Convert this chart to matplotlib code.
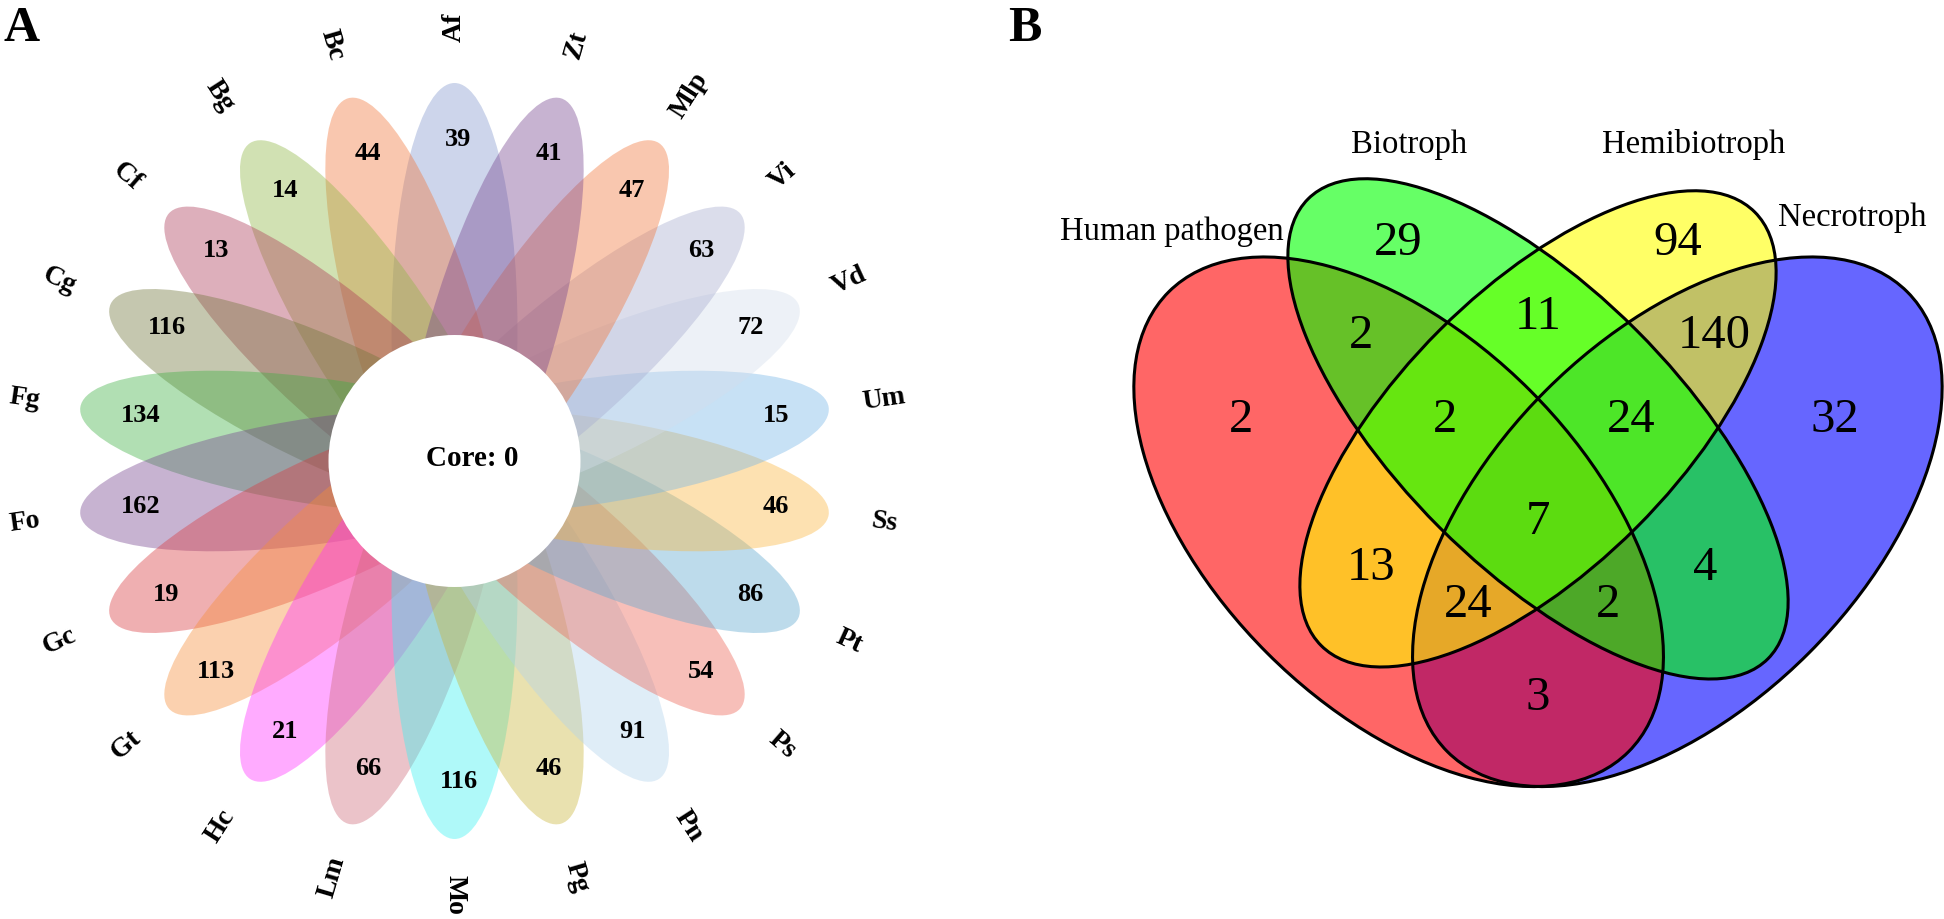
import numpy as np
import matplotlib
matplotlib.use('Agg')
import matplotlib.pyplot as plt
from matplotlib.patches import Ellipse, Circle

plt.rcParams['font.family'] = ['Liberation Serif', 'DejaVu Serif']

# ---- panel A: flower plot data (clockwise from top) ----
species = ['Af', 'Zt', 'Mlp', 'Vi', 'Vd', 'Um', 'Ss', 'Pt', 'Ps', 'Pn', 'Pg',
           'Mo', 'Lm', 'Hc', 'Gt', 'Gc', 'Fo', 'Fg', 'Cg', 'Cf', 'Bg', 'Bc']
unique_counts = [39, 41, 47, 63, 72, 15, 46, 86, 54, 91, 46,
                 116, 66, 21, 113, 19, 162, 134, 116, 13, 14, 44]
core_count = 0
petal_colors = ['#8298cd', '#75438e', '#f27537', '#a7accf', '#d4deeb', '#75b4e6',
                '#fab63e', '#5ca7cf', '#ed6152', '#b1d2ed', '#cab437', '#39f2f2',
                '#cd6b7a', '#ff2fff', '#f78e37', '#d9393e', '#75438e', '#3eaf43',
                '#707539', '#ac3755', '#8eb643', '#f27537']

# ---- panel B: four-set Venn data ----
groups = ['Human pathogen', 'Biotroph', 'Hemibiotroph', 'Necrotroph']
group_colors = ['#ff0000', '#00ff00', '#ffff00', '#0000ff']
# regions given as membership (H, B, He, N)
regions = [(1, 0, 0, 0), (0, 1, 0, 0), (0, 0, 1, 0), (0, 0, 0, 1),
           (1, 1, 0, 0), (0, 1, 1, 0), (0, 0, 1, 1), (1, 0, 1, 0),
           (0, 1, 0, 1), (1, 0, 0, 1), (1, 1, 1, 0), (0, 1, 1, 1),
           (1, 1, 1, 1), (1, 0, 1, 1), (1, 1, 0, 1)]
region_counts = [2, 29, 94, 32, 2, 11, 140, 13, 4, 3, 2, 24, 7, 24, 2]

# layout of the Venn (unit coordinates as in VennDiagram)
ell_xy = [(0.35, 0.47), (0.50, 0.57), (0.50, 0.57), (0.65, 0.47)]
ell_ab = [(0.35, 0.20), (0.35, 0.15), (0.33, 0.15), (0.35, 0.20)]
ell_rot = [135, 135, 45, 45]
region_xy = [(0.18, 0.58), (0.35, 0.77), (0.65, 0.77), (0.82, 0.58),
             (0.31, 0.67), (0.50, 0.69), (0.69, 0.67), (0.32, 0.42),
             (0.68, 0.42), (0.50, 0.28), (0.40, 0.58), (0.60, 0.58),
             (0.50, 0.47), (0.425, 0.38), (0.575, 0.38)]
label_xy = [(0.106, 0.782), (0.361, 0.876), (0.668, 0.876), (0.838, 0.797)]

W, H = 1944, 919
fig = plt.figure(figsize=(W / 100, H / 100), dpi=100)

# ---------------- panel A ----------------
ax1 = fig.add_axes([0, 0, 940 / W, 1])
ax1.set_xlim(0, 940)
ax1.set_ylim(0, H)
ax1.axis('off')

cx, cy = 454.5, H - 461
n = len(species)
angles = [90 - i * 360 / n for i in range(n)]
order = [0] + list(range(n - 1, 0, -1))
for i in order:
    t = np.deg2rad(angles[i])
    ax1.add_patch(Ellipse((cx + 132 * np.cos(t), cy + 132 * np.sin(t)),
                          width=2 * 246, height=2 * 63, angle=angles[i],
                          facecolor=petal_colors[i], alpha=0.4, lw=0))
ax1.add_patch(Circle((cx, cy), 126, facecolor='white', edgecolor='none', zorder=5))
ax1.text(cx + 18, cy + 3, f'Core: {core_count}', ha='center', va='center',
         fontsize=21, fontweight='bold', zorder=6)

for i in range(n):
    a = angles[i]
    t = np.deg2rad(a)
    ax1.text(cx + 321 * np.cos(t) + 4, cy + 321 * np.sin(t), str(unique_counts[i]),
             ha='center', va='center', fontsize=19, fontweight='bold', zorder=6)
    rot = a if -90 <= a <= 90 else a + 180
    ax1.text(cx + 434 * np.cos(t), cy + 434 * np.sin(t), species[i],
             ha='center', va='center', rotation=rot, rotation_mode='anchor',
             fontsize=20, fontweight='bold')

# ---------------- panel B ----------------
s = 929.0
x0, y0 = 1073.5, 958.4
ax2 = fig.add_axes([1000 / W, 0, 944 / W, 1])
ax2.set_xlim((1000 - x0) / s, (W - x0) / s)
ax2.set_ylim((y0 - H) / s, y0 / s)
ax2.axis('off')

for k in [3, 0, 2, 1]:
    a, b = ell_ab[k]
    ax2.add_patch(Ellipse(ell_xy[k], 2 * a, 2 * b, angle=ell_rot[k],
                          facecolor=group_colors[k], alpha=0.6, lw=0))
for k in range(4):
    a, b = ell_ab[k]
    ax2.add_patch(Ellipse(ell_xy[k], 2 * a, 2 * b, angle=ell_rot[k],
                          fill=False, edgecolor='black', lw=2.2, zorder=3))

for (x, y), c in zip(region_xy, region_counts):
    ax2.text(x, y, str(c), ha='center', va='center', fontsize=35, zorder=4)
for (x, y), g in zip(label_xy, groups):
    ax2.text(x, y, g, ha='center', va='center', fontsize=23.5)

fig.text(3 / W, 1 - 41 / H, 'A', ha='left', va='baseline', fontsize=36, fontweight='bold')
fig.text(1008 / W, 1 - 41 / H, 'B', ha='left', va='baseline', fontsize=36, fontweight='bold')

fig.savefig('out.png', dpi=100)
